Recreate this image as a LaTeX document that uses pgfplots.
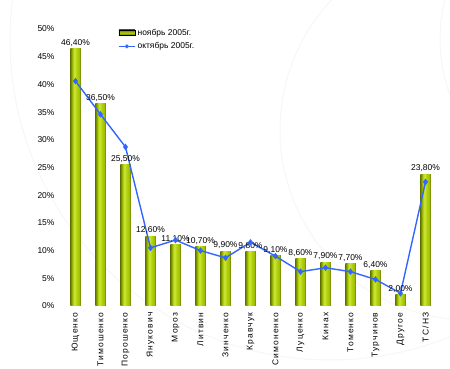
\documentclass[border=0pt]{standalone}
\usepackage{fontspec}
\setmainfont{Liberation Sans}
\newfontfamily\catfont{Liberation Sans}[LetterSpace=14]
\usepackage{pgfplots}
\usepackage{pgfplotstable}
\pgfplotsset{compat=1.18}
\definecolor{barL}{RGB}{100,118,0}
\definecolor{barHi}{RGB}{205,232,60}
\definecolor{barM}{RGB}{178,210,10}
\definecolor{barR}{RGB}{92,110,0}
\definecolor{lineB}{RGB}{51,102,255}
\pgfdeclarehorizontalshading{barshade}{100bp}{color(0bp)=(barL); color(25bp)=(barL); color(38bp)=(barM); color(45bp)=(barHi); color(56bp)=(barM); color(68bp)=(barM!80!barR); color(75bp)=(barR); color(100bp)=(barR)}
\pgfdeclareverticalshading{legshade}{100bp}{color(0bp)=(barR); color(25bp)=(barR); color(50bp)=(barM); color(75bp)=(barL); color(100bp)=(barL)}
\newcommand\f{\fontsize{8.5}{10}\selectfont}
\pgfplotstableread{
x nov oct
0 46.4 40.6
1 36.5 34.6
2 25.5 28.7
3 12.6 10.5
4 11.1 11.9
5 10.7 10.0
6 9.9 8.7
7 9.8 11.5
8 9.1 9.0
9 8.6 6.2
10 7.9 6.9
11 7.7 6.2
12 6.4 4.8
13 2.0 2.3
14 23.8 22.4
}\data
\begin{document}
\begin{tikzpicture}
\path[use as bounding box] (0,0) rectangle (450bp,369bp);
\begin{scope}[draw=black!3.5, line width=1bp]
\clip (0,0) rectangle (450bp,369bp);
\draw (470bp,239bp) circle (190bp);
\draw (600bp,330bp) circle (160bp);
\draw (330bp,329bp) circle (320bp);
\end{scope}
\begin{axis}[
  at={(63bp,63bp)}, anchor=south west,
  scale only axis, width=375bp, height=277bp,
  xmin=-0.5, xmax=14.5, ymin=0, ymax=50,
  axis line style={draw=none},
  major tick length=0pt,
  /pgf/number format/assume math mode=true,
  ytick={0,5,...,50},
  yticklabel={\pgfmathprintnumber{\tick}\%},
  yticklabel style={font=\f, xshift=-5bp},
  xtick={0,...,14},
  xticklabels={Ющенко,Тимошенко,Порошенко,Янукович,Мороз,Литвин,Зинченко,Кравчук,Симоненко,Луценко,Кинах,Томенко,Турчинов,Другое,ТС/НЗ},
  xticklabel style={font=\f\catfont, rotate=90, anchor=east, xshift=-3bp},
  legend style={at={(0.144,1.012)}, anchor=north west, draw=none, fill=white, font=\f, inner sep=1bp, row sep=2bp},
  legend cell align=left,
]
\addlegendimage{legend image code/.code={\shade[shading=legshade] (0bp,-2.8bp) rectangle (16bp,2.8bp);}}
\addlegendentry{ноябрь 2005г.}
\addlegendimage{legend image code/.code={\draw[lineB, line width=1.4bp] (0bp,0bp) -- (16bp,0bp); \fill[lineB] (8bp,0bp) circle (1.8bp);}}
\addlegendentry{октябрь 2005г.}
\pgfplotsinvokeforeach{0,...,14}{
\addplot[ybar, bar width=10.5bp, bar shift=0pt, draw=none, shade, shading=barshade, forget plot,
  restrict x to domain=#1:#1,
  nodes near coords={\pgfmathprintnumber[fixed,fixed zerofill,precision=2,use comma]{\pgfplotspointmeta}\%},
  every node near coord/.append style={font=\f, text=black, inner sep=1bp, yshift=1bp}
] table[x=x,y=nov]{\data};
}
\addplot[lineB, line width=1.4bp, mark=diamond*, mark size=2.2bp, mark options={fill=lineB}, forget plot] table[x=x,y=oct]{\data};
\end{axis}
\end{tikzpicture}
\end{document}
